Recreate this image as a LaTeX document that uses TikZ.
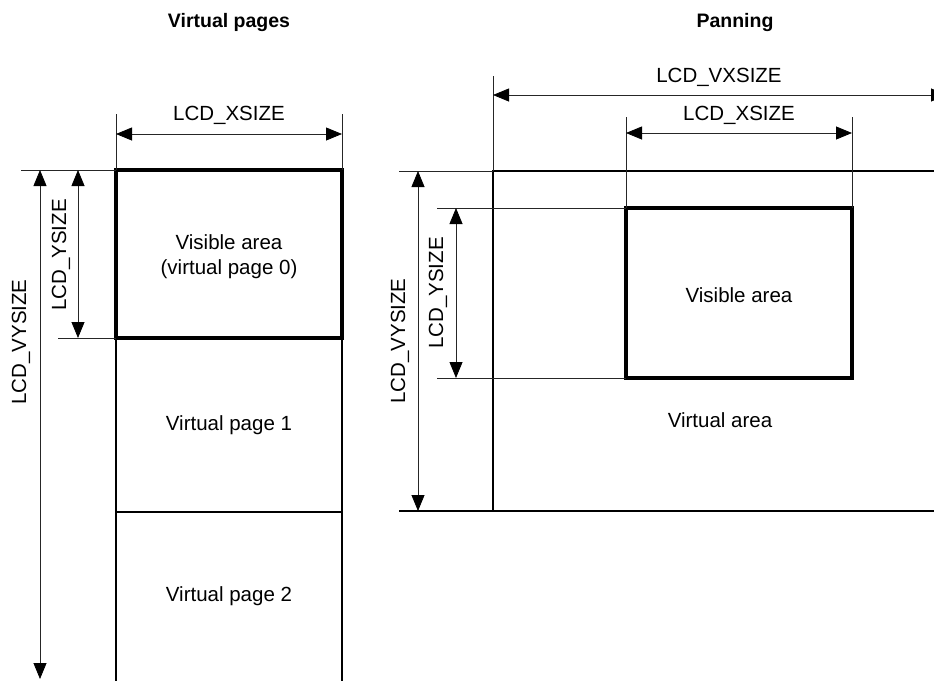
\documentclass[tikz,border=0pt]{standalone}
\usepackage{fontspec}
\setmainfont{Liberation Sans}
\usetikzlibrary{arrows.meta}
\begin{document}
\begin{tikzpicture}[x=1pt,y=-1pt,
  thin line/.style={line width=0.8pt, black!85},
  frame line/.style={line width=1.4pt},
  thick frame/.style={line width=3.6pt, line join=miter},
  dim/.style={thin line, {Triangle[length=16pt,width=13pt,black]}-{Triangle[length=16pt,width=13pt,black]}},
  lbl/.style={font=\fontsize{20.5}{25}\selectfont, inner sep=0pt, align=center},
  ttl/.style={font=\fontsize{19.5}{23}\selectfont\bfseries, inner sep=0pt}]
\useasboundingbox (0,0) rectangle (934,681);
\fill[white] (0,0) rectangle (934,681);

% ---------- titles ----------
\node[ttl] (t1) at (229,22) {Virtual pages};
\node[ttl] (t2) at (735,22) {Panning};

% ---------- left: virtual pages ----------
\coordinate (Ltl) at (116,170);
\coordinate (Ltr) at (342,170);
\coordinate (Lml) at (116,338);
\coordinate (Lmr) at (342,338);
\coordinate (Lpl) at (116,512);
\coordinate (Lpr) at (342,512);
\coordinate (Lbl) at (116,681);
\coordinate (Lbr) at (342,681);

\draw[frame line] (Lml) -- (Lbl);
\draw[frame line] (Lmr) -- (Lbr);
\draw[frame line] (Lpl) -- (Lpr);
\draw[thick frame] (Ltl) rectangle (Lmr);

% extension lines
\coordinate (Lxa) at (116,114);
\coordinate (Lxb) at (342,114);
\draw[thin line] (Lxa) -- (Ltl);
\draw[thin line] (Lxb) -- (Ltr);
\coordinate (Lha) at (21,170);
\draw[thin line] (Lha) -- (Ltl);
\coordinate (Lhb) at (58,338);
\draw[thin line] (Lhb) -- (Lml);

% dimension arrows
\coordinate (LxA) at (116,134);
\coordinate (LxB) at (342,134);
\draw[dim] (LxA) -- (LxB);
\node[lbl] (lxs) at (229,115) {LCD\_XSIZE};

\coordinate (LvA) at (40,170);
\coordinate (LvB) at (40,679);
\draw[dim] (LvA) -- (LvB);
\node[lbl, rotate=90] (lvys) at (21,342) {LCD\_VYSIZE};

\coordinate (LyA) at (78,170);
\coordinate (LyB) at (78,338);
\draw[dim] (LyA) -- (LyB);
\node[lbl, rotate=90] (lys) at (61,255) {LCD\_YSIZE};

\node[lbl] (vis0) at (229,257) {Visible area\\(virtual page 0)};
\node[lbl] (vp1) at (229,425) {Virtual page 1};
\node[lbl] (vp2) at (229,596) {Virtual page 2};

% ---------- right: panning ----------
\coordinate (Rtl) at (493,171);
\coordinate (Rtr) at (934,171);
\coordinate (Rbl) at (493,511);
\coordinate (Rbr) at (934,511);
\coordinate (Rtop) at (493,76);
\draw[frame line] (Rtr) -- (Rtl) -- (Rbl) -- (Rbr);
\draw[thin line] (Rtop) -- (Rtl);
\coordinate (Rha) at (399,171);
\coordinate (Rhb) at (399,511);
\draw[thin line] (Rha) -- (Rtl);
\draw[frame line] (Rhb) -- (Rbl);

% visible area
\coordinate (Vtl) at (626,208);
\coordinate (Vtr) at (852,208);
\coordinate (Vbl) at (626,378);
\coordinate (Vbr) at (852,378);
\draw[thick frame] (Vtl) rectangle (Vbr);

% extension lines
\coordinate (Vxa) at (626,117);
\coordinate (Vxb) at (852,117);
\draw[thin line] (Vxa) -- (Vtl);
\draw[thin line] (Vxb) -- (Vtr);
\coordinate (Vha) at (437,208);
\coordinate (Vhb) at (437,378);
\draw[thin line] (Vha) -- (Vtl);
\draw[thin line] (Vhb) -- (Vbl);

% dimension arrows
\coordinate (RvxA) at (493,95);
\coordinate (RvxB) at (947,95);
\draw[dim] (RvxA) -- (RvxB);
\node[lbl] (rvxs) at (719,77) {LCD\_VXSIZE};

\coordinate (RxA) at (626,133);
\coordinate (RxB) at (852,133);
\draw[dim] (RxA) -- (RxB);
\node[lbl] (rxs) at (739,115) {LCD\_XSIZE};

\coordinate (RvA) at (418,171);
\coordinate (RvB) at (418,511);
\draw[dim] (RvA) -- (RvB);
\node[lbl, rotate=90] (rvys) at (400,341) {LCD\_VYSIZE};

\coordinate (RyA) at (456,208);
\coordinate (RyB) at (456,378);
\draw[dim] (RyA) -- (RyB);
\node[lbl, rotate=90] (rys) at (438,293) {LCD\_YSIZE};

\node[lbl] (vis) at (739,295) {Visible area};
\node[lbl] (va) at (720,420) {Virtual area};
\end{tikzpicture}
\end{document}
